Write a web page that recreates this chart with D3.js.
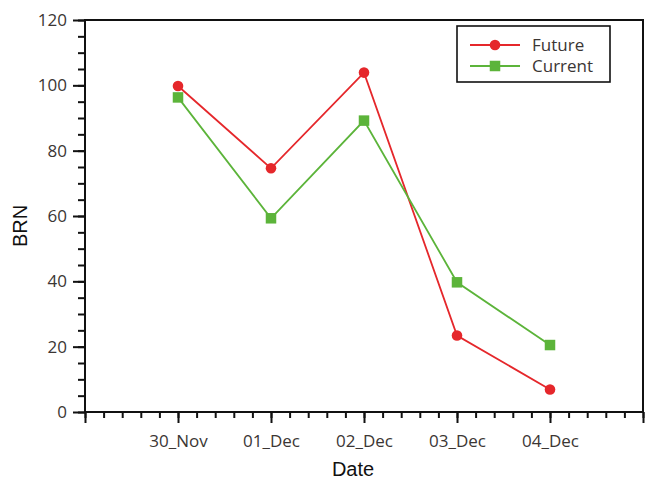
<!DOCTYPE html>
<html>
<head>
<meta charset="utf-8">
<script src="https://cdn.jsdelivr.net/npm/d3@7"></script>
<style>
  html, body { margin: 0; padding: 0; background: #ffffff; }
  svg { display: block; }
</style>
</head>
<body>
<svg id="chart" width="651" height="480"></svg>
<script>
// Daily BRN values for the two scenarios
const dates = ["30_Nov", "01_Dec", "02_Dec", "03_Dec", "04_Dec"];
const future = [99.8, 74.6, 103.9, 23.4, 6.9];
const current = [96.3, 59.3, 89.2, 39.7, 20.5];
const yTicks = [0, 20, 40, 60, 80, 100, 120];

const seriesNames = ["Future", "Current"];
const seriesColors = ["#e5272b", "#5cb43a"];

const svg = d3.select("#chart");
const margin = { left: 85, top: 20, right: 8, bottom: 68 };
const W = 651, H = 480;
const x0 = margin.left, x1 = W - margin.right;
const y0 = H - margin.bottom, y1 = margin.top;

// category index on a linear scale with one empty slot on each side
const x = d3.scaleLinear().domain([-1, dates.length]).range([x0, x1]);
const y = d3.scaleLinear().domain([0, 120]).range([y0, y1]);

const axisColor = "#111";
const labelColor = "#3b3634";
const tickFont = "'Open Sans', 'Noto Sans', sans-serif";

// frame
svg.append("rect")
  .attr("x", x0).attr("y", y1)
  .attr("width", x1 - x0).attr("height", y0 - y1)
  .attr("fill", "none").attr("stroke", axisColor).attr("stroke-width", 2);

// x axis: minor ticks every 0.2, major ticks at each category slot
const xMinor = d3.range(-1, dates.length + 0.001, 0.2).map(v => Math.round(v * 10) / 10);
const xMajor = d3.range(-1, dates.length + 1);
const xAxisMinor = d3.axisBottom(x).tickValues(xMinor).tickSize(6).tickFormat("");
const xAxisMajor = d3.axisBottom(x).tickValues(xMajor).tickSize(11)
  .tickPadding(12)
  .tickFormat(d => (d >= 0 && d < dates.length) ? dates[d] : "");

function styleAxis(g) {
  g.select(".domain").remove();
  g.selectAll(".tick line").attr("stroke", axisColor).attr("stroke-width", 2);
  g.selectAll(".tick text").attr("fill", labelColor)
    .attr("font-family", tickFont).attr("font-size", 17);
}

svg.append("g").attr("transform", `translate(0,${y0})`).call(xAxisMinor).call(styleAxis);
svg.append("g").attr("transform", `translate(0,${y0})`).call(xAxisMajor).call(styleAxis);

// y axis: minor ticks every 5, labelled ticks every 20
const yMinor = d3.range(0, 121, 5);
const yAxisMinor = d3.axisLeft(y).tickValues(yMinor).tickSize(7).tickFormat("");
const yAxisMajor = d3.axisLeft(y).tickValues(yTicks).tickSize(12).tickPadding(6)
  .tickFormat(d3.format("d"));
svg.append("g").attr("transform", `translate(${x0},0)`).call(yAxisMinor).call(styleAxis);
svg.append("g").attr("transform", `translate(${x0},0)`).call(yAxisMajor).call(styleAxis);

// axis titles
const titleFont = "'Liberation Sans', Arial, sans-serif";
svg.append("text")
  .attr("x", 353).attr("y", 476)
  .attr("text-anchor", "middle")
  .attr("font-family", titleFont).attr("font-size", 20).attr("fill", "#111")
  .text("Date");
svg.append("text")
  .attr("transform", `translate(27,226) rotate(-90)`)
  .attr("text-anchor", "middle")
  .attr("font-family", titleFont).attr("font-size", 20).attr("fill", "#111")
  .text("BRN");

// series
const line = d3.line().x((d, i) => x(i)).y(d => y(d));
const allSeries = [future, current];

allSeries.forEach((vals, si) => {
  svg.append("path")
    .datum(vals)
    .attr("d", line)
    .attr("fill", "none")
    .attr("stroke", seriesColors[si])
    .attr("stroke-width", 1.8);
});

function drawMarker(sel, si, cx, cy) {
  if (si === 0) {
    sel.append("circle").attr("cx", cx).attr("cy", cy).attr("r", 5.3)
      .attr("fill", seriesColors[si]);
  } else {
    const s = 10.5;
    sel.append("rect").attr("x", cx - s / 2).attr("y", cy - s / 2)
      .attr("width", s).attr("height", s).attr("fill", seriesColors[si]);
  }
}

allSeries.forEach((vals, si) => {
  const g = svg.append("g");
  vals.forEach((v, i) => drawMarker(g, si, x(i), y(v)));
});

// legend
const lg = svg.append("g");
lg.append("rect")
  .attr("x", 457).attr("y", 26).attr("width", 153).attr("height", 56)
  .attr("fill", "#fff").attr("stroke", axisColor).attr("stroke-width", 1.6);
seriesNames.forEach((name, si) => {
  const ly = 45 + si * 21;
  lg.append("line")
    .attr("x1", 470).attr("x2", 520).attr("y1", ly).attr("y2", ly)
    .attr("stroke", seriesColors[si]).attr("stroke-width", 1.8);
  drawMarker(lg, si, 495, ly);
  lg.append("text")
    .attr("x", 532).attr("y", ly + 6)
    .attr("font-family", tickFont).attr("font-size", 17).attr("fill", labelColor)
    .text(name);
});
</script>
</body>
</html>
